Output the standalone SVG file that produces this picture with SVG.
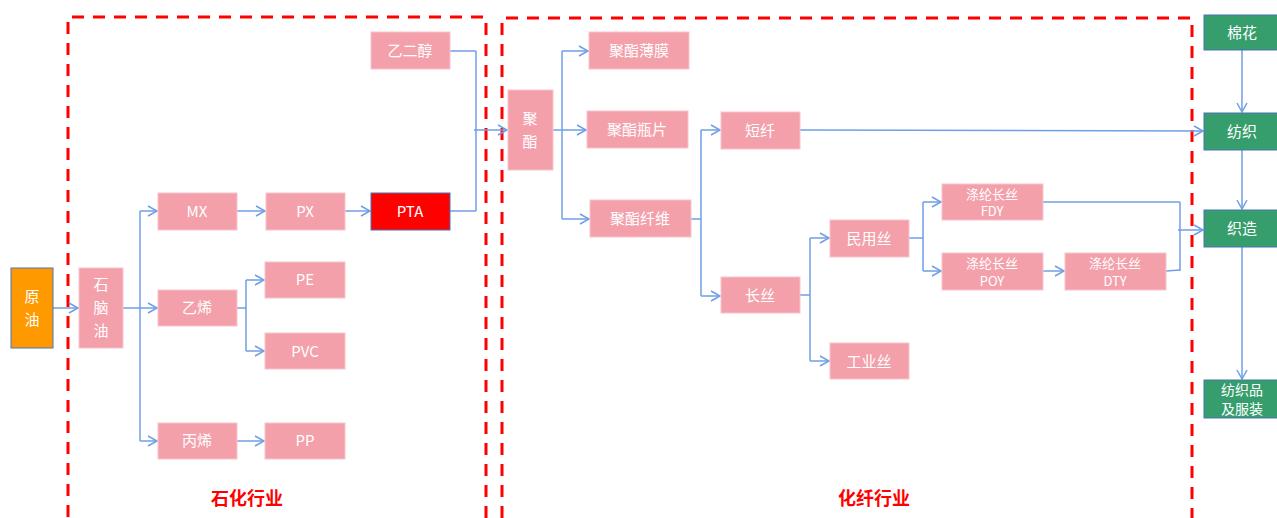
<svg xmlns="http://www.w3.org/2000/svg" width="1277" height="518" viewBox="0 0 1277 518">
<style>
.p{fill:#F3A0AB;stroke:#F8C4CB;stroke-width:1}
.g{fill:#359E6C;stroke:#4A72B8;stroke-width:1}
.t{fill:#fff;font-family:"Noto Sans CJK SC","Liberation Sans",sans-serif;font-size:15px;text-anchor:middle}
.ts{fill:#fff;font-family:"Noto Sans CJK SC","Liberation Sans",sans-serif;font-size:13px;text-anchor:middle}
.tg{fill:#fff;font-family:"Noto Sans CJK SC","Liberation Sans",sans-serif;font-size:14px;text-anchor:middle}
.c line,.c polyline{fill:none;stroke:#6F9FE6;stroke-width:1.5}
.d{fill:none;stroke:#FF0000;stroke-width:3;stroke-dasharray:12 9}
.lab{fill:#FF0000;font-family:"Noto Sans CJK SC","Liberation Sans",sans-serif;font-size:18px;font-weight:bold;text-anchor:middle}
</style>
<defs>
<marker id="a" markerWidth="12" markerHeight="12" refX="10" refY="6" orient="auto" markerUnits="userSpaceOnUse">
<polyline points="1,1 10,6 1,11" fill="none" stroke="#6F9FE6" stroke-width="1.5"/>
</marker>
</defs>
<rect width="1277" height="518" fill="#fff"/>
<g id="zones">
<polyline class="d" points="68,517 68,17 486,17 486,518"/>
<polyline class="d" points="502,518 502,18 1192,18 1192,518"/>
<text class="lab" x="247" y="505">石化行业</text>
<text class="lab" x="874" y="505">化纤行业</text>
</g>
<g class="c" id="connectors">
<line x1="53" y1="308" x2="78" y2="308" marker-end="url(#a)"/>
<line x1="123" y1="308" x2="140" y2="308"/>
<line x1="140" y1="211" x2="140" y2="441"/>
<line x1="140" y1="211" x2="157" y2="211" marker-end="url(#a)"/>
<line x1="140" y1="308" x2="157" y2="308" marker-end="url(#a)"/>
<line x1="140" y1="441" x2="157" y2="441" marker-end="url(#a)"/>
<line x1="237" y1="211" x2="265" y2="211" marker-end="url(#a)"/>
<line x1="345" y1="211" x2="370" y2="211" marker-end="url(#a)"/>
<line x1="237" y1="308" x2="246" y2="308"/>
<line x1="246" y1="280" x2="246" y2="351"/>
<line x1="246" y1="280" x2="264" y2="280" marker-end="url(#a)"/>
<line x1="246" y1="351" x2="264" y2="351" marker-end="url(#a)"/>
<line x1="237" y1="441" x2="264" y2="441" marker-end="url(#a)"/>
<line x1="450" y1="51" x2="476" y2="51"/>
<line x1="450" y1="211" x2="476" y2="211"/>
<line x1="476" y1="51" x2="476" y2="211"/>
<line x1="474" y1="130" x2="507" y2="130" marker-end="url(#a)"/>
<line x1="553" y1="130" x2="586" y2="130" marker-end="url(#a)"/>
<line x1="562" y1="51" x2="562" y2="219"/>
<line x1="562" y1="51" x2="588" y2="51" marker-end="url(#a)"/>
<line x1="562" y1="219" x2="589" y2="219" marker-end="url(#a)"/>
<line x1="691" y1="219" x2="701" y2="219"/>
<line x1="701" y1="130" x2="701" y2="296"/>
<line x1="701" y1="130" x2="720" y2="130" marker-end="url(#a)"/>
<line x1="701" y1="296" x2="720" y2="296" marker-end="url(#a)"/>
<line x1="800" y1="130" x2="1203" y2="131" marker-end="url(#a)"/>
<line x1="800" y1="295" x2="810" y2="295"/>
<line x1="810" y1="238" x2="810" y2="361"/>
<line x1="810" y1="238" x2="829" y2="238" marker-end="url(#a)"/>
<line x1="810" y1="361" x2="829" y2="361" marker-end="url(#a)"/>
<line x1="909" y1="238" x2="923" y2="238"/>
<line x1="923" y1="202" x2="923" y2="271"/>
<line x1="923" y1="202" x2="941" y2="202" marker-end="url(#a)"/>
<line x1="923" y1="271" x2="941" y2="271" marker-end="url(#a)"/>
<line x1="1043" y1="271" x2="1064" y2="271" marker-end="url(#a)"/>
<line x1="1043" y1="202" x2="1180" y2="202"/>
<line x1="1166" y1="271" x2="1180" y2="270"/>
<line x1="1180" y1="202" x2="1180" y2="271"/>
<line x1="1178" y1="230" x2="1203" y2="230" marker-end="url(#a)"/>
<line x1="1242" y1="50" x2="1242" y2="112" marker-end="url(#a)"/>
<line x1="1242" y1="150" x2="1242" y2="209" marker-end="url(#a)"/>
<line x1="1242" y1="247" x2="1242" y2="379" marker-end="url(#a)"/>
</g>
<g id="n-yuanyou"><rect x="11" y="268" width="42" height="80" fill="#FF9900" stroke="#4A72B8" stroke-width="1"/><text class="t" x="32" y="302">原</text><text class="t" x="32" y="325">油</text></g>
<g id="n-naphtha"><rect class="p" x="79" y="268" width="44" height="80"/><text class="t" x="101" y="290">石</text><text class="t" x="101" y="313">脑</text><text class="t" x="101" y="336">油</text></g>
<g id="n-mx"><rect class="p" x="158" y="193" width="79" height="37"/><text class="t" x="197" y="217">MX</text></g>
<g id="n-ethylene"><rect class="p" x="158" y="290" width="79" height="36"/><text class="t" x="197" y="313">乙烯</text></g>
<g id="n-propylene"><rect class="p" x="158" y="423" width="79" height="36"/><text class="t" x="197" y="446">丙烯</text></g>
<g id="n-px"><rect class="p" x="266" y="193" width="79" height="37"/><text class="t" x="305" y="217">PX</text></g>
<g id="n-pta"><rect x="371" y="193" width="79" height="37" fill="#FF0000" stroke="#4A72B8" stroke-width="1"/><text class="t" x="410" y="217">PTA</text></g>
<g id="n-pe"><rect class="p" x="265" y="262" width="80" height="36"/><text class="t" x="305" y="285">PE</text></g>
<g id="n-pvc"><rect class="p" x="265" y="333" width="80" height="36"/><text class="t" x="305" y="357">PVC</text></g>
<g id="n-pp"><rect class="p" x="265" y="423" width="80" height="36"/><text class="t" x="305" y="446">PP</text></g>
<g id="n-meg"><rect class="p" x="371" y="32" width="79" height="37"/><text class="t" x="410" y="56">乙二醇</text></g>
<g id="n-polyester"><rect class="p" x="508" y="90" width="45" height="80"/><text class="t" x="530" y="124">聚</text><text class="t" x="530" y="147">酯</text></g>
<g id="n-film"><rect class="p" x="589" y="32" width="100" height="37"/><text class="t" x="639" y="56">聚酯薄膜</text></g>
<g id="n-bottle"><rect class="p" x="587" y="111" width="101" height="37"/><text class="t" x="637" y="135">聚酯瓶片</text></g>
<g id="n-fiber"><rect class="p" x="590" y="200" width="101" height="37"/><text class="t" x="640" y="224">聚酯纤维</text></g>
<g id="n-staple"><rect class="p" x="721" y="112" width="79" height="37"/><text class="t" x="760" y="136">短纤</text></g>
<g id="n-filament"><rect class="p" x="721" y="277" width="79" height="36"/><text class="t" x="760" y="301">长丝</text></g>
<g id="n-civil"><rect class="p" x="830" y="220" width="79" height="37"/><text class="t" x="869" y="244">民用丝</text></g>
<g id="n-industrial"><rect class="p" x="830" y="343" width="79" height="36"/><text class="t" x="869" y="367">工业丝</text></g>
<g id="n-fdy"><rect class="p" x="942" y="184" width="101" height="36"/><text class="ts" x="992" y="199">涤纶长丝</text><text class="ts" x="992" y="216">FDY</text></g>
<g id="n-poy"><rect class="p" x="942" y="253" width="101" height="37"/><text class="ts" x="992" y="268">涤纶长丝</text><text class="ts" x="992" y="286">POY</text></g>
<g id="n-dty"><rect class="p" x="1065" y="253" width="101" height="37"/><text class="ts" x="1115" y="268">涤纶长丝</text><text class="ts" x="1115" y="286">DTY</text></g>
<g id="n-cotton"><rect class="g" x="1204" y="15" width="76" height="35"/><text class="t" x="1242" y="38">棉花</text></g>
<g id="n-spinning"><rect class="g" x="1204" y="113" width="76" height="37"/><text class="t" x="1242" y="137">纺织</text></g>
<g id="n-weaving"><rect class="g" x="1204" y="210" width="76" height="37"/><text class="t" x="1242" y="234">织造</text></g>
<g id="n-apparel"><rect class="g" x="1204" y="380" width="76" height="38"/><text class="tg" x="1242" y="395">纺织品</text><text class="tg" x="1242" y="414">及服装</text></g>
</svg>
